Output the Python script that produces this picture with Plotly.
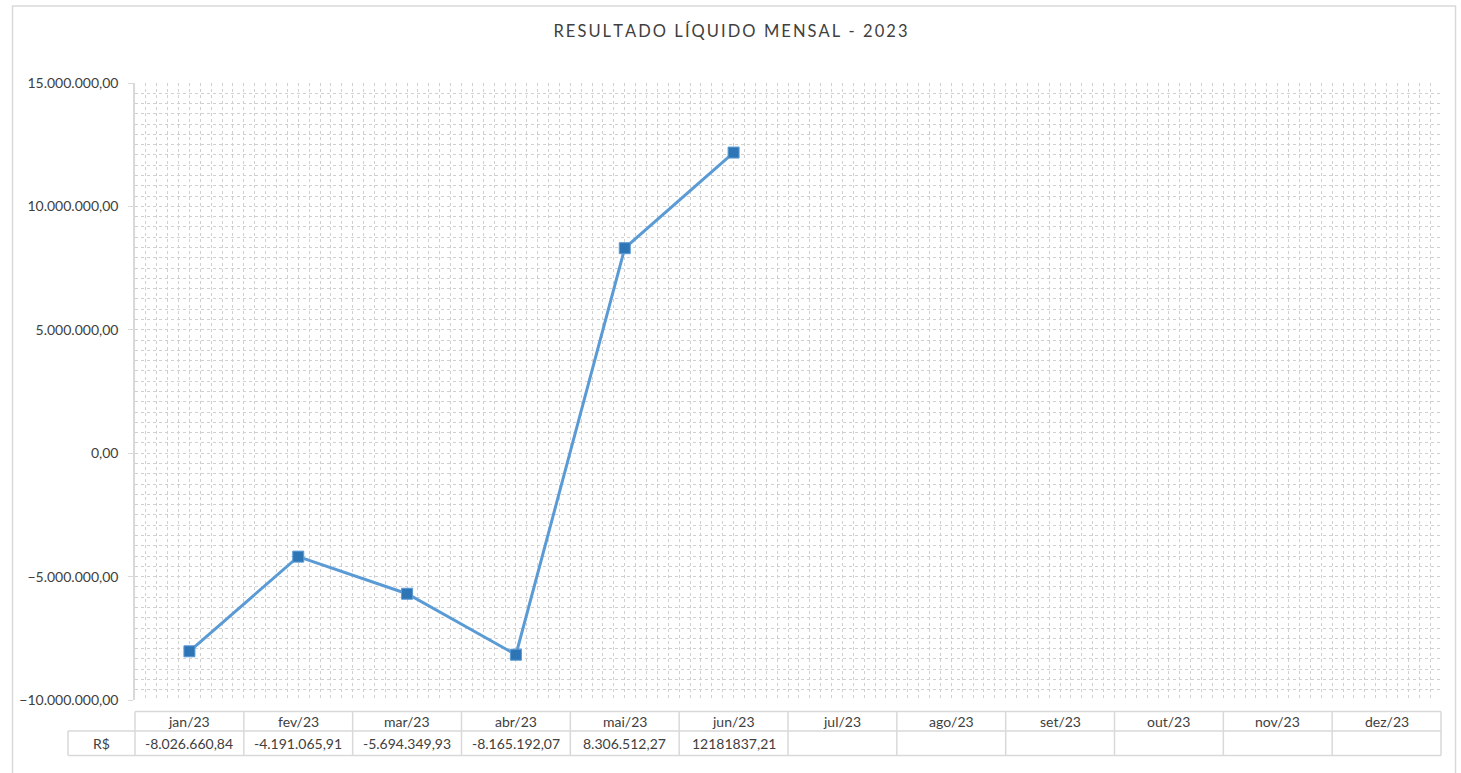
import plotly.graph_objects as go

meses = ['jan/23', 'fev/23', 'mar/23', 'abr/23', 'mai/23', 'jun/23',
         'jul/23', 'ago/23', 'set/23', 'out/23', 'nov/23', 'dez/23']
resultado = [-8026660.84, -4191065.91, -5694349.93, -8165192.07, 8306512.27, 12181837.21]
# textos da tabela como aparecem na planilha
resultado_txt = ['-8.026.660,84', '-4.191.065,91', '-5.694.349,93', '-8.165.192,07',
                 '8.306.512,27', '12181837,21']
titulo = 'RESULTADO LÍQUIDO MENSAL - 2023'

fonte = 'Lato'
cinza_txt = '#404040'
cinza_borda = '#d9d9d9'
cinza_grade = '#d0d0d0'
n = len(meses)

fig = go.Figure()
fig.add_trace(go.Scatter(
    x=list(range(len(resultado))), y=resultado, mode='lines+markers',
    line=dict(color='#5B9BD5', width=3),
    marker=dict(symbol='square', size=11, color='#2E75B6',
                line=dict(color='#5B9BD5', width=1)),
    showlegend=False))

# titulo com espacamento entre letras
titulo_esp = '\u2009'.join(titulo)

fig.update_layout(
    width=1461, height=773,
    margin=dict(l=135, r=20, t=83, b=73),
    paper_bgcolor='white', plot_bgcolor='white',
    separators=',.',
    font=dict(family=fonte, size=14, color=cinza_txt),
    title=dict(text=titulo_esp, x=0.5, xanchor='center', y=1 - 31 / 773, yanchor='middle',
               font=dict(family=fonte, size=16.5, color=cinza_txt)),
)

fig.update_xaxes(range=[-0.5, n - 0.5], showticklabels=False, ticks='',
                 showgrid=True, tick0=-0.5, dtick=0.1,
                 gridcolor=cinza_grade, griddash='dot', gridwidth=1,
                 zeroline=False, showline=False, fixedrange=True)
fig.update_yaxes(range=[-10000000, 15000000], dtick=5000000, tickformat=',.2f',
                 showgrid=True, gridcolor=cinza_grade, griddash='dot', gridwidth=1,
                 minor=dict(dtick=5000000 / 12, showgrid=True, gridcolor=cinza_grade,
                            griddash='dot', gridwidth=1),
                 ticks='outside', ticklen=5, tickcolor=cinza_borda, ticklabelstandoff=7,
                 showline=True, linecolor=cinza_borda, linewidth=1.5,
                 zeroline=False, tickfont=dict(size=14, color=cinza_txt))

# tabela de dados abaixo do grafico
plot_h = 773 - 83 - 73
y_top = -(711.5 - 700) / plot_h
y_mid = -(731 - 700) / plot_h
y_bot = -(755.5 - 700) / plot_h
x_rs = -(135 - 68) / (1461 - 135 - 20)

shapes = []
linha = dict(color=cinza_borda, width=1.5)
shapes.append(dict(type='line', xref='paper', yref='paper', x0=0, x1=1, y0=y_top, y1=y_top, line=linha))
shapes.append(dict(type='line', xref='paper', yref='paper', x0=x_rs, x1=1, y0=y_mid, y1=y_mid, line=linha))
shapes.append(dict(type='line', xref='paper', yref='paper', x0=x_rs, x1=1, y0=y_bot, y1=y_bot, line=linha))
shapes.append(dict(type='line', xref='paper', yref='paper', x0=x_rs, x1=x_rs, y0=y_mid, y1=y_bot, line=linha))
for i in range(n + 1):
    xp = i / n
    shapes.append(dict(type='line', xref='paper', yref='paper', x0=xp, x1=xp,
                       y0=y_top, y1=y_bot, line=linha))
# borda externa do grafico
shapes.append(dict(type='rect', xref='paper', yref='paper',
                   x0=-(135 - 12.5) / 1306, x1=1 + (1455.5 - 1441) / 1306,
                   y0=-(790 - 700) / plot_h, y1=1 + (83 - 6) / plot_h,
                   line=dict(color=cinza_borda, width=1.5), fillcolor='rgba(0,0,0,0)', layer='below'))
fig.update_layout(shapes=shapes)

for i, m in enumerate(meses):
    fig.add_annotation(x=i, xref='x', y=(y_top + y_mid) / 2, yref='paper', text=m,
                       showarrow=False, font=dict(family=fonte, size=14, color=cinza_txt),
                       xanchor='center', yanchor='middle')
for i, t in enumerate(resultado_txt):
    fig.add_annotation(x=i, xref='x', y=(y_mid + y_bot) / 2, yref='paper', text=t,
                       showarrow=False, font=dict(family=fonte, size=14, color=cinza_txt),
                       xanchor='center', yanchor='middle')
fig.add_annotation(x=(x_rs) / 2, xref='paper', y=(y_mid + y_bot) / 2, yref='paper', text='R$',
                   showarrow=False, font=dict(family=fonte, size=14, color=cinza_txt),
                   xanchor='center', yanchor='middle')

# tira a margem padrao do body para o grafico ficar em (0, 0)
fig.write_html("out.html", config={'displayModeBar': False},
               post_script="document.body.style.margin='0';")
